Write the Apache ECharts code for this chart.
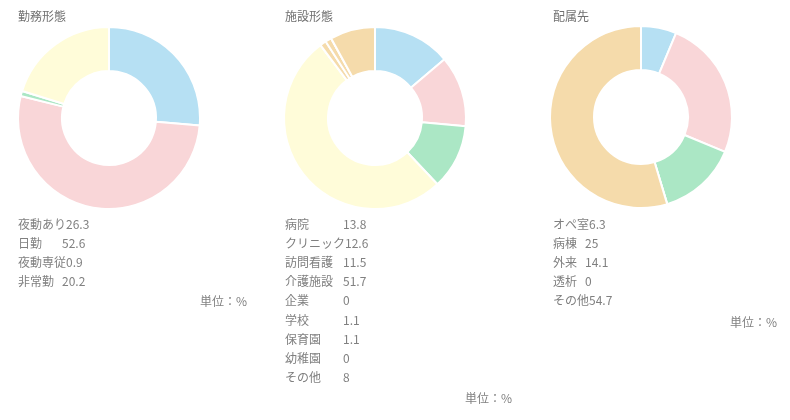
<!DOCTYPE html>
<html><head><meta charset="utf-8">
<script src="https://cdn.jsdelivr.net/npm/echarts@6/dist/echarts.min.js"></script>
<style>html,body{margin:0;padding:0;background:#fff}#c{width:790px;height:420px}</style>
</head><body><div id="c"></div>
<script>
const titles = ['勤務形態', '施設形態', '配属先'];
const names1 = ['夜動あり', '日勤', '夜動専従', '非常勤'];
const values1 = [26.3, 52.6, 0.9, 20.2];
const names2 = ['病院', 'クリニック', '訪問看護', '介護施設', '企業', '学校', '保育園', '幼稚園', 'その他'];
const values2 = [13.8, 12.6, 11.5, 51.7, 0, 1.1, 1.1, 0, 8];
const names3 = ['オペ室', '病棟', '外来', '透析', 'その他'];
const values3 = [6.3, 25, 14.1, 0, 54.7];
const unitLabel = '単位：%';

const BLUE = '#b6e0f3', PINK = '#f9d6d8', GREEN = '#abe7c5', YELLOW = '#fffcd9', TAN = '#f5dbab';
const colors1 = [BLUE, PINK, GREEN, YELLOW];
const colors2 = [BLUE, PINK, GREEN, YELLOW, TAN, TAN, TAN, TAN, TAN];
const colors3 = [BLUE, PINK, GREEN, YELLOW, TAN];

const FONT = '"Noto Sans CJK JP", "Noto Sans", sans-serif';
const TXT = '#808080';

const cv = document.createElement('canvas').getContext('2d');
cv.font = '12px ' + FONT;
function tw(s) { return cv.measureText(s).width; }

const charts = [
  {names: names1, values: values1, colors: colors1, cx: 109, cy: 118, lx: 8, nameW: 44, unit: [195, 290]},
  {names: names2, values: values2, colors: colors2, cx: 375, cy: 118, lx: 275, nameW: 58, unit: [460, 387]},
  {names: names3, values: values3, colors: colors3, cx: 641, cy: 117, lx: 543, nameW: 32, unit: [725, 311]}
];

const xs = [13, 280, 548];
const option = {
  animation: false,
  title: [],
  legend: [],
  series: []
};
charts.forEach((c, i) => {
  option.title.push({text: titles[i], left: xs[i], top: 5, textStyle: {fontSize: 12, fontWeight: 'normal', color: '#707070', fontFamily: FONT}});
  option.title.push({text: unitLabel, left: c.unit[0], top: c.unit[1], textStyle: {fontSize: 12, fontWeight: 'normal', color: TXT, fontFamily: FONT}});
  option.legend.push({
    orient: 'vertical', left: c.lx, top: 212, icon: 'none', itemWidth: 0, itemHeight: 14, itemGap: 6.2,
    selectedMode: false, data: c.names,
    formatter: (function (cc) { return function (n) {
      const k = cc.names.indexOf(n);
      const st = tw(n) >= cc.nameW ? 'w' : 'n';
      return '{' + st + '|' + n + '}{v|' + cc.values[k] + '}';
    }; })(c),
    textStyle: {color: TXT, fontSize: 12, fontFamily: FONT, rich: {
      n: {width: c.nameW, color: TXT, fontSize: 12, fontFamily: FONT},
      w: {color: TXT, fontSize: 12, fontFamily: FONT},
      v: {color: TXT, fontSize: 12, fontFamily: FONT}}}
  });
  option.series.push({
    type: 'pie', center: [c.cx, c.cy], radius: [47, 91], startAngle: 90, clockwise: true,
    label: {show: false}, labelLine: {show: false}, silent: true, legendHoverLink: false,
    itemStyle: {borderColor: '#fff', borderWidth: 2},
    data: c.names.map((n, k) => ({name: n, value: c.values[k], itemStyle: {color: c.colors[k]}}))
  });
});
const chart = echarts.init(document.getElementById('c'));
chart.setOption(option);
</script></body></html>
